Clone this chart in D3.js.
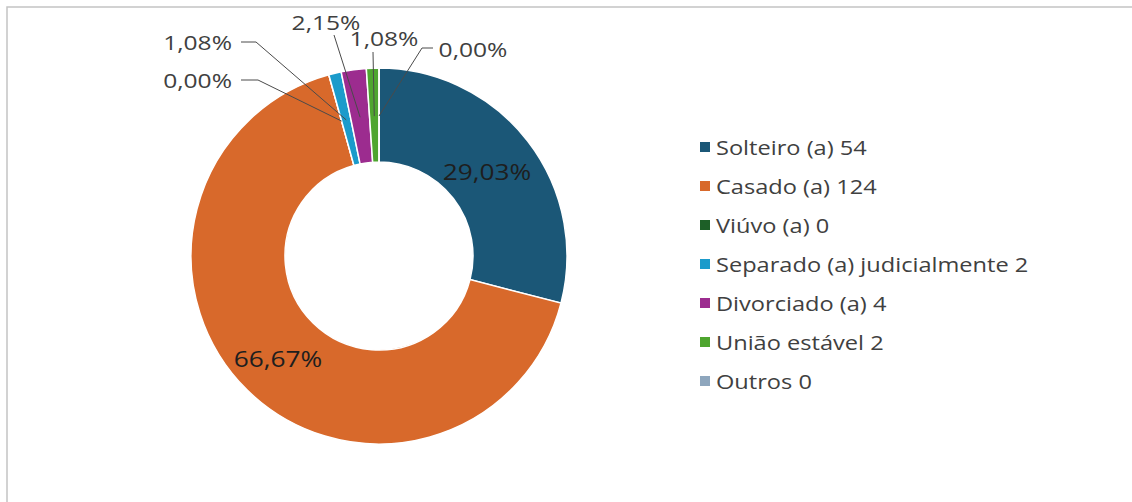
<!DOCTYPE html>
<html><head><meta charset="utf-8">
<script src="https://cdn.jsdelivr.net/npm/d3@7"></script>
<style>
html,body{margin:0;padding:0;background:#fff;}
svg{display:block;font-family:"Open Sans","Liberation Sans",sans-serif;}
</style></head>
<body>
<svg id="chart" width="1132" height="502"></svg>
<script>
const categories = ["Solteiro (a)", "Casado (a)", "Viúvo (a)", "Separado (a) judicialmente", "Divorciado (a)", "União estável", "Outros"];
const values = [54, 124, 0, 2, 4, 2, 0];
const colors = ["#1b5777", "#d8692b", "#1d5f27", "#1b9bcb", "#9c2c8f", "#4ea52f", "#8ea6bd"];
const legendLabels = categories.map((c, i) => c + " " + values[i]);

const svg = d3.select("#chart");
svg.append("path").attr("d", "M7,502 L7,7 L1132,7").attr("fill", "none").attr("stroke", "#c4c4c4").attr("stroke-width", 1.5);

const cx = 379, cy = 256, R = 188, r0 = 94;
const total = d3.sum(values);
const fmt = v => (v / total * 100).toFixed(2).replace(".", ",") + "%";

// text helper: positioned group, horizontally stretched glyphs
function label(parent, x, y, txt, size, sx, anchor, fill) {
  parent.append("g").attr("transform", `translate(${x},${y}) scale(${sx},1)`)
    .append("text").attr("text-anchor", anchor).attr("dominant-baseline", "central")
    .attr("font-size", size).attr("fill", fill).text(txt);
}

const pie = d3.pie().value(d => d).sort(null);
const arcs = pie(values);
const arc = d3.arc().innerRadius(r0).outerRadius(R);
const g = svg.append("g").attr("transform", `translate(${cx},${cy})`);
g.selectAll("path.slice").data(arcs).enter().append("path")
  .attr("class", "slice")
  .attr("d", arc)
  .attr("fill", (d, i) => colors[i])
  .attr("stroke", "#fff").attr("stroke-width", 1.5);

const inside = { 0: [108, -84], 1: [-101, 103] };
Object.keys(inside).forEach(k => {
  const i = +k;
  label(g, inside[k][0], inside[k][1], fmt(values[i]), 21, 1.25, "middle", "#1e1e1e");
});

const outside = {
  2: { tx: 232, ty: 80, anchor: "end", elbow: [[241, 80], [258, 80]] },
  3: { tx: 232, ty: 42, anchor: "end", elbow: [[241, 42], [256, 42]] },
  4: { tx: 326, ty: 22, anchor: "middle", elbow: [[334, 35]] },
  5: { tx: 384, ty: 38, anchor: "middle", elbow: [[373, 52]] },
  6: { tx: 473, ty: 49, anchor: "middle", elbow: [[433, 48], [422, 48]] }
};
const mid = d3.arc().innerRadius(140).outerRadius(140);
Object.keys(outside).forEach(k => {
  const i = +k, o = outside[k];
  const c = mid.centroid(arcs[i]);
  const end = [cx + c[0], cy + c[1]];
  svg.append("path").attr("d", d3.line()(o.elbow.concat([end])))
    .attr("fill", "none").attr("stroke", "#4a4a4a").attr("stroke-width", 1);
  label(svg, o.tx, o.ty, fmt(values[i]), 20, 1.23, o.anchor, "#404040");
});

const lg = svg.append("g");
const ly0 = 147, lstep = 39;
legendLabels.forEach((t, i) => {
  const y = ly0 + i * lstep;
  lg.append("rect").attr("x", 700).attr("y", y - 5).attr("width", 10).attr("height", 10).attr("fill", colors[i]);
  label(lg, 716, y, t, 20, 1.18, "start", "#404040");
});
</script>
</body></html>
